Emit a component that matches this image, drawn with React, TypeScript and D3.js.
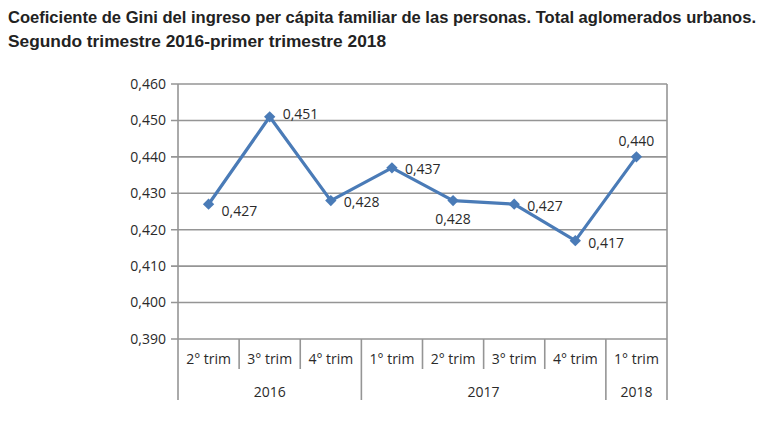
import React from "react";
import * as d3 from "d3";

const quarters = ["2° trim", "3° trim", "4° trim", "1° trim", "2° trim", "3° trim", "4° trim", "1° trim"];
const years = [
  { label: "2016", start: 0, count: 3 },
  { label: "2017", start: 3, count: 4 },
  { label: "2018", start: 7, count: 1 },
];
const values = [0.427, 0.451, 0.428, 0.437, 0.428, 0.427, 0.417, 0.44];
const labelPos = ["right", "right", "right", "rightUp", "below", "right", "right", "above"];
const yTicks = [0.39, 0.4, 0.41, 0.42, 0.43, 0.44, 0.45, 0.46];

export default function App() {
  const W = 768, H = 428;
  const left = 178, right = 667, top = 84, bottom = 339;
  const x = d3.scaleBand<number>().domain(d3.range(values.length)).range([left, right]);
  const y = d3.scaleLinear().domain([0.39, 0.46]).range([bottom, top]);
  const cx = (i: number) => (x(i) as number) + x.bandwidth() / 2;
  const line = d3.line<number>().x((_, i) => cx(i)).y((d) => y(d));
  const fmt = (v: number) => d3.format(".3f")(v).replace(".", ",");
  const grid = "#959595";
  const blue = "#4a7bb7";
  const font = "'Open Sans', sans-serif";
  const fs = 14;
  const tc = "#2a2a2a";
  const boundaries = new Set(years.map((yr) => yr.start).concat([values.length]));
  return (
    <svg width={W} height={H} style={{ position: "absolute", left: 0, top: 0, background: "#fff" }}>
      <text x={8} y={23} fontFamily="'Liberation Sans', Arial, sans-serif" fontWeight="bold" fontSize={16.5} fill="#222"
        textLength={748} lengthAdjust="spacingAndGlyphs">
        Coeficiente de Gini del ingreso per cápita familiar de las personas. Total aglomerados urbanos.
      </text>
      <text x={8} y={47} fontFamily="'Liberation Sans', Arial, sans-serif" fontWeight="bold" fontSize={16.5} fill="#222"
        textLength={378} lengthAdjust="spacingAndGlyphs">
        Segundo trimestre 2016-primer trimestre 2018
      </text>
      {yTicks.map((t) => (
        <g key={t}>
          <line x1={left - 7} x2={right} y1={y(t)} y2={y(t)} stroke={grid} strokeWidth={1.6} />
          <text x={left - 12} y={y(t)} dy="0.35em" textAnchor="end" fontFamily={font} fontSize={fs} fill={tc}>
            {fmt(t)}
          </text>
        </g>
      ))}
      <line x1={left} x2={left} y1={top} y2={400} stroke={grid} strokeWidth={1.6} />
      <line x1={right} x2={right} y1={top} y2={400} stroke={grid} strokeWidth={1.6} />
      {d3.range(1, values.length).map((i) => {
        const xx = x(i) as number;
        return (
          <line key={i} x1={xx} x2={xx} y1={bottom} y2={boundaries.has(i) ? 400 : 369} stroke={grid} strokeWidth={1.6} />
        );
      })}
      {quarters.map((q, i) => (
        <text key={i} x={cx(i)} y={359} dy="0.35em" textAnchor="middle" fontFamily={font} fontSize={fs} fill={tc}>
          {q}
        </text>
      ))}
      {years.map((yr) => {
        const x0 = x(yr.start) as number;
        const x1 = x0 + x.bandwidth() * yr.count;
        return (
          <text key={yr.label} x={(x0 + x1) / 2} y={392} dy="0.35em" textAnchor="middle" fontFamily={font} fontSize={fs} fill={tc}>
            {yr.label}
          </text>
        );
      })}
      <path d={line(values) || ""} fill="none" stroke={blue} strokeWidth={3.2} strokeLinejoin="round" />
      {values.map((v, i) => (
        <rect key={i} x={cx(i) - 4} y={y(v) - 4} width={8} height={8} fill={blue} transform={`rotate(45 ${cx(i)} ${y(v)})`} />
      ))}
      {values.map((v, i) => {
        const px = cx(i), py = y(v);
        const pos = labelPos[i];
        let lx = px + 13, ly = py + 2, anchor = "start";
        if (pos === "right" && i === 0) ly = py + 7;
        if (pos === "rightUp") ly = py + 1;
        if (pos === "below") { lx = px; ly = py + 19; anchor = "middle"; }
        if (pos === "above") { lx = px; ly = py - 16; anchor = "middle"; }
        if (i === 1) ly = py - 3;
        return (
          <text key={i} x={lx} y={ly} dy="0.35em" textAnchor={anchor} fontFamily={font} fontSize={fs} fill={tc}>
            {fmt(v)}
          </text>
        );
      })}
    </svg>
  );
}
